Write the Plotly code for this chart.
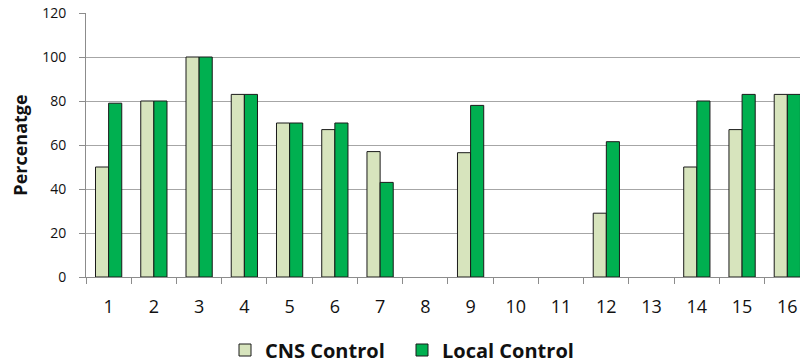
import plotly.graph_objects as go

# Categories and percentages for each control type (None = no bar)
categories = [str(i) for i in range(1, 17)]
cns_control = [50, 80, 100, 83, 70, 67, 57, None, 56.5, None, None, 29, None, 50, 67, 83]
local_control = [79, 80, 100, 83, 70, 70, 43, None, 78, None, None, 61.5, None, 80, 83, 83]
y_ticks = [0, 20, 40, 60, 80, 100, 120]

FONT = "'Open Sans', sans-serif"
bar_line = dict(color="#1a1a1a", width=1)

fig = go.Figure()
fig.add_trace(go.Bar(
    x=categories, y=cns_control, name="CNS Control",
    marker=dict(color="#d7e4bd", line=bar_line),
))
fig.add_trace(go.Bar(
    x=categories, y=local_control, name="Local Control",
    marker=dict(color="#00b050", line=bar_line),
))

fig.update_layout(
    width=800, height=364,
    margin=dict(l=86, r=0, t=13, b=87, autoexpand=False),
    paper_bgcolor="white", plot_bgcolor="white",
    barmode="group", bargap=0.42, bargroupgap=0.0,
    font=dict(family=FONT, color="#222222"),
    showlegend=True,
    legend=dict(
        orientation="h", xref="container", x=0.5025, xanchor="center",
        yref="container", y=1 - 350 / 364, yanchor="middle",
        font=dict(size=20, family=FONT, color="#111111", weight="bold"),
        itemwidth=30, tracegroupgap=0,
        entrywidth=132, entrywidthmode="pixels",
    ),
)
fig.update_xaxes(
    type="category", range=[-0.5, 15.28],
    showline=True, linecolor="#8c8c8c", linewidth=1,
    ticks="outside", tickson="boundaries", ticklen=6, tickcolor="#8c8c8c",
    ticklabelstandoff=13,
    tickfont=dict(size=18, family=FONT, color="#111111"),
    showgrid=False,
)
fig.update_yaxes(
    range=[0, 120], tickvals=y_ticks,
    showline=True, linecolor="#8c8c8c", linewidth=1,
    ticks="outside", ticklen=6, tickcolor="#8c8c8c",
    ticklabelstandoff=10,
    showgrid=True, gridcolor="#a6a6a6", gridwidth=1,
    zeroline=False,
    tickfont=dict(size=14, family=FONT, color="#111111"),
    title=dict(text="<b>Percenatge</b>", font=dict(size=18, family=FONT, color="#111111"), standoff=9),
)

fig.write_html("out.html")
